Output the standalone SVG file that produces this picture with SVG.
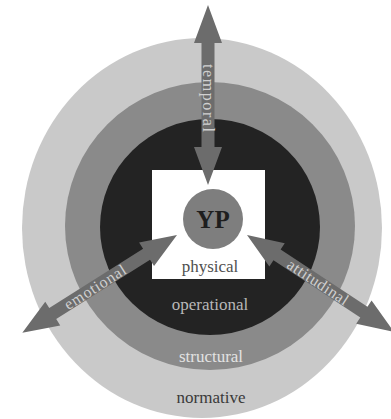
<svg xmlns="http://www.w3.org/2000/svg" width="391" height="419" viewBox="0 0 391 419">
<style>
  .lbl { font-family: "Liberation Serif", "DejaVu Serif", serif; text-anchor: middle; }
  .ring { font-size: 17px; }
  .arrow { fill: #6c6c6c; }
  .alab { font-size: 16px; fill: #d0d0d0; dominant-baseline: central; }
</style>
<rect width="391" height="419" fill="#ffffff"/>
<g id="normative">
  <ellipse cx="202" cy="228" rx="180" ry="190" fill="#c9c9c9"/>
  <text class="lbl ring" x="211" y="403" fill="#3a3a3a">normative</text>
</g>
<g id="structural">
  <ellipse cx="210" cy="226" rx="145" ry="144" fill="#8a8a8a"/>
  <text class="lbl ring" x="211" y="362" fill="#e2e2e2">structural</text>
</g>
<g id="operational">
  <ellipse cx="210" cy="227" rx="110" ry="108" fill="#232323"/>
  <text class="lbl ring" x="210" y="310" fill="#b8b8b8">operational</text>
</g>
<g id="physical">
  <rect x="152" y="170" width="113" height="109" fill="#ffffff"/>
  <text class="lbl ring" x="210" y="272" fill="#505050">physical</text>
</g>
<g id="connectors">
  <g transform="translate(208,185) rotate(-90)">
    <polygon class="arrow" points="0,0 38,-14 38,-6.5 142,-6.5 142,-14 180,0 142,14 142,6.5 38,6.5 38,14"/>
  </g>
  <g transform="translate(177,235) rotate(147.7)">
    <polygon class="arrow" points="0,0 36,-14 36,-6.5 147,-6.5 147,-14 183,0 147,14 147,6.5 36,6.5 36,14"/>
  </g>
  <g transform="translate(247,235) rotate(33.4)">
    <polygon class="arrow" points="0,0 36,-14 36,-6.5 140,-6.5 140,-14 176,0 140,14 140,6.5 36,6.5 36,14"/>
  </g>
  <text class="lbl alab" x="208" y="98" transform="rotate(90 208 98)" textLength="68" lengthAdjust="spacing">temporal</text>
  <text class="lbl alab" x="95" y="287" transform="rotate(-32.3 95 287)" textLength="70" lengthAdjust="spacing">emotional</text>
  <text class="lbl alab" x="318" y="282" transform="rotate(33.4 318 282)" textLength="70" lengthAdjust="spacing">attitudinal</text>
</g>
<g id="yp">
  <circle cx="213" cy="219" r="30" fill="#7e7e7e"/>
  <text class="lbl" x="213" y="228" font-size="25" font-weight="bold" fill="#1e1e1e">YP</text>
</g>
</svg>
